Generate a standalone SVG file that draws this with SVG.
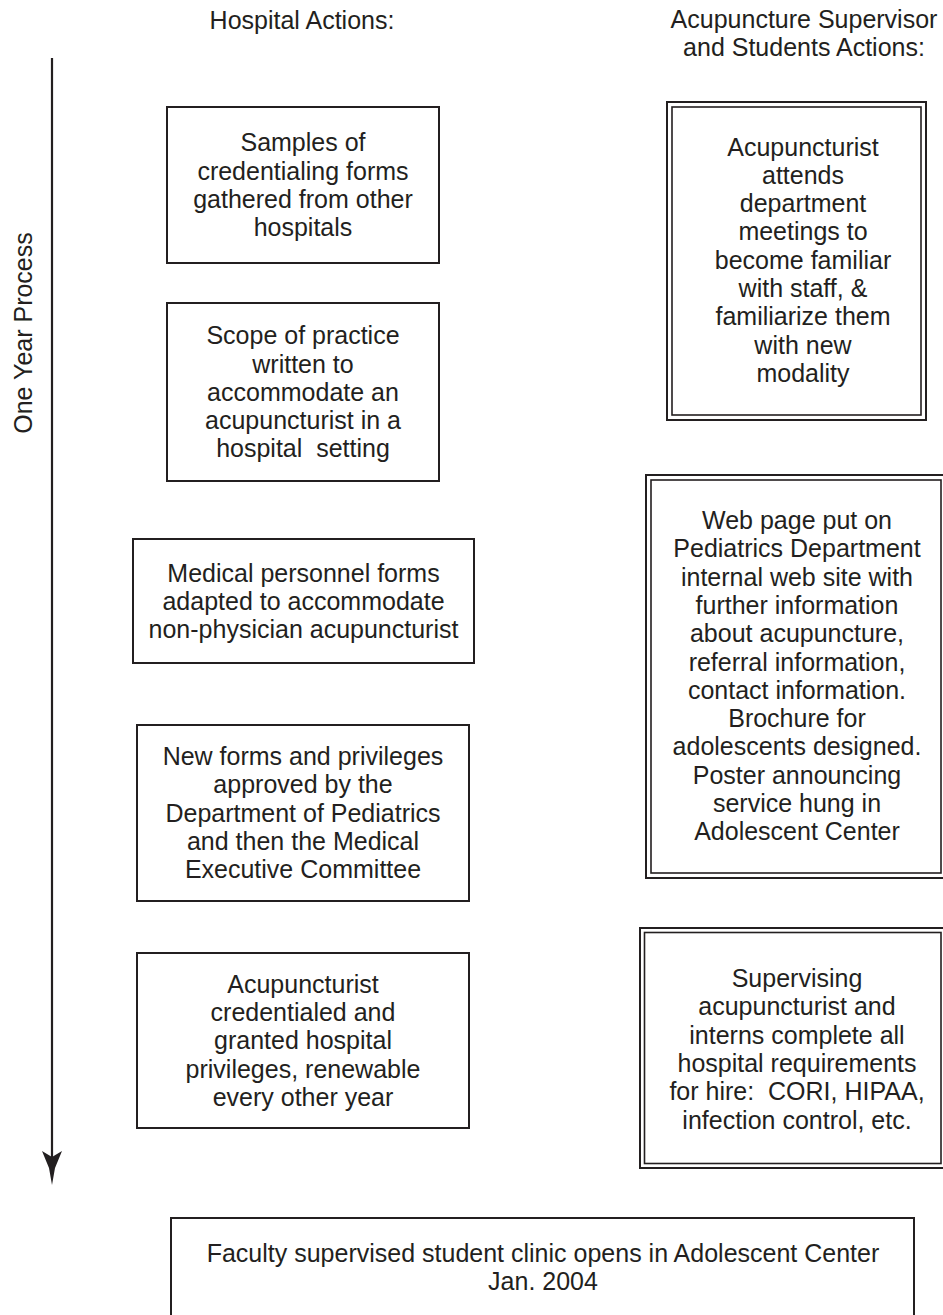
<svg xmlns="http://www.w3.org/2000/svg" width="943" height="1315" viewBox="0 0 943 1315">
<style>
text{font-family:"Liberation Sans",Arial,sans-serif;font-size:25px;fill:#231f20;text-anchor:middle}
.box{fill:none;stroke:#231f20;stroke-width:2}
.inner{fill:none;stroke:#231f20;stroke-width:1.6}
.axis{fill:none;stroke:#231f20;stroke-width:2.2}
</style>
<rect width="943" height="1315" fill="#ffffff"/>
<g id="headers">
<text x="302" y="29">Hospital Actions:</text>
<text x="804" y="28">Acupuncture Supervisor</text>
<text x="804" y="56">and Students Actions:</text>
<text transform="translate(32,333) rotate(-90)" x="0" y="0">One Year Process</text>
</g>
<g id="connectors">
<line class="axis" x1="52" y1="58" x2="52" y2="1160"/>
<path d="M52,1185 L49,1168 L42,1151 L52,1157 L62,1151 L55,1168 Z" fill="#231f20"/>
</g>
<g id="h1">
<rect class="box" x="167" y="107" width="272" height="156"/>
<text x="303" y="151.3">Samples of</text>
<text x="303" y="179.6">credentialing forms</text>
<text x="303" y="207.9">gathered from other</text>
<text x="303" y="236.2">hospitals</text>
</g>
<g id="h2">
<rect class="box" x="167" y="303" width="272" height="178"/>
<text x="303" y="344.2">Scope of practice</text>
<text x="303" y="372.5">written to</text>
<text x="303" y="400.8">accommodate an</text>
<text x="303" y="429.1">acupuncturist in a</text>
<text x="303" y="457.4" xml:space="preserve">hospital  setting</text>
</g>
<g id="h3">
<rect class="box" x="133" y="539" width="341" height="124"/>
<text x="303.5" y="581.5">Medical personnel forms</text>
<text x="303.5" y="609.8">adapted to accommodate</text>
<text x="303.5" y="638.1">non-physician acupuncturist</text>
</g>
<g id="h4">
<rect class="box" x="137" y="725" width="332" height="176"/>
<text x="303" y="765.1">New forms and privileges</text>
<text x="303" y="793.4">approved by the</text>
<text x="303" y="821.7">Department of Pediatrics</text>
<text x="303" y="850">and then the Medical</text>
<text x="303" y="878.3">Executive Committee</text>
</g>
<g id="h5">
<rect class="box" x="137" y="953" width="332" height="175"/>
<text x="303" y="992.6">Acupuncturist</text>
<text x="303" y="1020.9">credentialed and</text>
<text x="303" y="1049.2">granted hospital</text>
<text x="303" y="1077.5">privileges, renewable</text>
<text x="303" y="1105.8">every other year</text>
</g>
<g id="s1">
<rect class="box" x="667" y="102" width="259" height="318"/>
<rect class="inner" x="672" y="107" width="249" height="308"/>
<text x="803" y="155.5">Acupuncturist</text>
<text x="803" y="183.8">attends</text>
<text x="803" y="212.1">department</text>
<text x="803" y="240.4">meetings to</text>
<text x="803" y="268.7">become familiar</text>
<text x="803" y="297">with staff, &amp;</text>
<text x="803" y="325.3">familiarize them</text>
<text x="803" y="353.6">with new</text>
<text x="803" y="381.9">modality</text>
</g>
<g id="s2">
<rect class="box" x="646" y="475" width="300" height="403"/>
<rect class="inner" x="651" y="480" width="290" height="393"/>
<text x="797" y="529">Web page put on</text>
<text x="797" y="557.3">Pediatrics Department</text>
<text x="797" y="585.6">internal web site with</text>
<text x="797" y="613.9">further information</text>
<text x="797" y="642.2">about acupuncture,</text>
<text x="797" y="670.5">referral information,</text>
<text x="797" y="698.8">contact information.</text>
<text x="797" y="727.1">Brochure for</text>
<text x="797" y="755.4">adolescents designed.</text>
<text x="797" y="783.7">Poster announcing</text>
<text x="797" y="812">service hung in</text>
<text x="797" y="840.3">Adolescent Center</text>
</g>
<g id="s3">
<rect class="box" x="640" y="928" width="306" height="240"/>
<rect class="inner" x="644.5" y="932.5" width="296.5" height="231"/>
<text x="797" y="987">Supervising</text>
<text x="797" y="1015.3">acupuncturist and</text>
<text x="797" y="1043.6">interns complete all</text>
<text x="797" y="1071.9">hospital requirements</text>
<text x="797" y="1100.2" xml:space="preserve">for hire:  CORI, HIPAA,</text>
<text x="797" y="1128.5">infection control, etc.</text>
</g>
<g id="final">
<rect class="box" x="171" y="1218" width="743" height="110"/>
<text x="543" y="1262">Faculty supervised student clinic opens in Adolescent Center</text>
<text x="543" y="1290">Jan. 2004</text>
</g>
</svg>
